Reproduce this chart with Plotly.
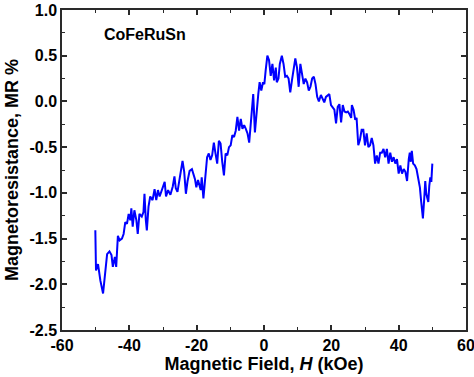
import plotly.graph_objects as go

field_koe = [
    -50.1, -50.0, -49.9, -49.3, -48.6, -47.8, -47.1, -46.6, -45.9, -45.3, -44.9, -44.3,
    -43.9, -43.4, -42.9, -42.2, -41.7, -41.2, -40.7, -40.2, -39.7, -39.4, -39.0, -38.5,
    -37.9, -37.5, -37.0, -36.3, -35.8, -35.5, -35.1, -34.8, -34.3, -33.8, -33.1, -32.5,
    -32.0, -31.5, -31.0, -30.3, -29.5, -29.1, -28.5, -27.8, -27.1, -26.6, -26.2, -25.7,
    -25.2, -24.6, -24.2, -23.7, -23.2, -22.7, -22.1, -21.4, -20.5, -20.1, -19.6, -18.8,
    -18.5, -18.0, -17.5, -16.9, -16.4, -15.9, -15.4, -14.9, -14.4, -13.9, -13.4, -12.9,
    -12.4, -11.9, -11.4, -10.9, -10.4, -9.9, -9.4, -8.9, -8.4, -7.9, -7.4, -6.9,
    -6.4, -5.9, -5.4, -4.9, -4.4, -3.9, -3.5, -3.2, -2.7, -2.2, -1.7, -1.3,
    -0.8, -0.3, 0.1, 0.5, 1.0, 1.5, 2.0, 2.5, 3.0, 3.5, 3.8, 4.3,
    4.7, 5.3, 5.8, 6.3, 6.8, 7.3, 7.8, 8.3, 8.8, 9.3, 9.8, 10.3,
    10.8, 11.3, 11.8, 12.3, 12.8, 13.3, 13.8, 14.3, 14.8, 15.3, 15.8, 16.3,
    16.9, 17.4, 17.9, 18.4, 18.9, 19.4, 19.9, 20.4, 20.9, 21.4, 21.9, 22.4,
    22.9, 23.4, 23.9, 24.4, 24.9, 25.4, 25.9, 26.1, 26.6, 27.1, 27.5, 28.0,
    28.5, 29.0, 29.5, 30.0, 30.5, 31.0, 31.5, 32.0, 32.5, 33.0, 33.5, 34.0,
    34.5, 35.0, 35.5, 36.0, 36.5, 37.0, 37.5, 38.0, 38.5, 39.0, 39.5, 40.0,
    40.5, 41.0, 41.5, 42.0, 42.5, 43.0, 43.3, 43.6, 43.9, 44.3, 44.8, 45.3,
    45.8, 46.3, 46.7, 47.2, 47.6, 47.9, 48.2, 48.5, 48.8, 49.1, 49.4, 49.7,
    50.0,
]

mr_percent = [
    -1.41, -1.62, -1.85, -1.78, -1.96, -2.10, -1.85, -1.67, -1.64, -1.68, -1.81, -1.70,
    -1.81, -1.47, -1.52, -1.50, -1.45, -1.32, -1.34, -1.23, -1.30, -1.17, -1.37, -1.19,
    -1.30, -1.45, -1.23, -1.26, -1.21, -1.01, -1.30, -1.41, -1.15, -1.04, -1.08, -0.96,
    -1.08, -0.97, -1.04, -0.97, -0.88, -1.04, -0.97, -1.02, -0.93, -0.82, -0.95, -0.99,
    -0.88, -0.72, -0.65, -0.77, -1.01, -0.87, -0.76, -0.74, -0.85, -0.94, -0.86, -0.97,
    -0.83, -1.06, -0.86, -0.61, -0.57, -0.64, -0.59, -0.45, -0.57, -0.68, -0.43, -0.46,
    -0.66, -0.81, -0.57, -0.59, -0.50, -0.48, -0.37, -0.39, -0.32, -0.17, -0.32, -0.19,
    -0.30, -0.26, -0.30, -0.35, -0.45, -0.23, -0.06, 0.08, -0.34, -0.10, 0.08, 0.21,
    0.12, 0.21, 0.19, 0.34, 0.50, 0.45, 0.28, 0.41, 0.23, 0.37, 0.21, 0.25,
    0.41, 0.50, 0.41, 0.27, 0.28, 0.25, 0.10, 0.23, 0.34, 0.47, 0.37, 0.16,
    0.41, 0.30, 0.19, 0.25, 0.21, 0.12, 0.16, 0.25, 0.27, 0.19, 0.05, 0.00,
    0.07, 0.03, -0.01, 0.05, 0.07, 0.08, -0.04, -0.06, -0.09, -0.24, -0.06, -0.03,
    -0.23, -0.04, -0.11, -0.12, -0.11, -0.14, -0.18, -0.04, -0.09, -0.20, -0.18, -0.48,
    -0.42, -0.31, -0.31, -0.48, -0.35, -0.50, -0.48, -0.40, -0.48, -0.68, -0.59, -0.68,
    -0.56, -0.56, -0.52, -0.61, -0.52, -0.68, -0.56, -0.66, -0.61, -0.68, -0.63, -0.79,
    -0.70, -0.79, -0.74, -0.77, -0.87, -0.63, -0.56, -0.66, -0.54, -0.68, -0.70, -0.74,
    -0.83, -0.94, -1.10, -1.28, -1.06, -0.87, -1.01, -1.05, -1.10, -0.92, -0.83, -0.88,
    -0.68,
]

x_tick_values = [-60, -40, -20, 0, 20, 40, 60]
x_tick_labels = ["-60", "-40", "-20", "0", "20", "40", "60"]
y_tick_values = [-2.5, -2.0, -1.5, -1.0, -0.5, 0.0, 0.5, 1.0]
y_tick_labels = ["-2.5", "-2.0", "-1.5", "-1.0", "-0.5", "0.0", "0.5", "1.0"]

sample_label = "CoFeRuSn"
x_title = "Magnetic Field, <i>H</i> (kOe)"
y_title = "Magnetoresistance, MR %"

FONT = "Arial, 'Liberation Sans', sans-serif"
AXCOL = "#2a2a2a"

fig = go.Figure()
fig.add_trace(go.Scatter(
    x=field_koe, y=mr_percent, mode="lines",
    line=dict(color="#0000ff", width=2),
    showlegend=False,
))

fig.add_annotation(
    x=-35.4, y=0.73, xref="x", yref="y", text=f"<b>{sample_label}</b>",
    showarrow=False, font=dict(family=FONT, size=16, color="black"),
)

axis_common = dict(
    showgrid=False, zeroline=False, showline=True, linecolor=AXCOL, linewidth=1.5,
    mirror="ticks", ticks="inside", ticklen=5, tickwidth=1.5, tickcolor=AXCOL,
    tickfont=dict(family=FONT, size=16, color="black", weight="bold"),
    automargin=False, ticklabeloverflow="allow",
)

fig.update_xaxes(
    range=[-60, 60], tickmode="array", tickvals=x_tick_values, ticktext=x_tick_labels,
    minor=dict(tickmode="linear", tick0=-50, dtick=10, ticks="inside", ticklen=3, tickwidth=1.2, tickcolor=AXCOL),
    title=dict(text=f"<b>{x_title}</b>", font=dict(family=FONT, size=18, color="black"), standoff=1),
    **axis_common,
)
fig.update_yaxes(
    range=[-2.5, 1.0], tickmode="array", tickvals=y_tick_values, ticktext=y_tick_labels,
    minor=dict(tickmode="linear", tick0=-2.25, dtick=0.25, ticks="inside", ticklen=3, tickwidth=1.2, tickcolor=AXCOL),
    title=dict(text=f"<b>{y_title}</b>", font=dict(family=FONT, size=18, color="black"), standoff=6),
    **axis_common,
)

fig.update_layout(
    width=474, height=377,
    margin=dict(l=62, r=8, t=10, b=47),
    plot_bgcolor="white", paper_bgcolor="white",
)

fig.write_html(
    "out.html",
    config={"displayModeBar": False},
    post_script="document.body.style.margin='0';document.body.style.overflow='hidden';",
)
